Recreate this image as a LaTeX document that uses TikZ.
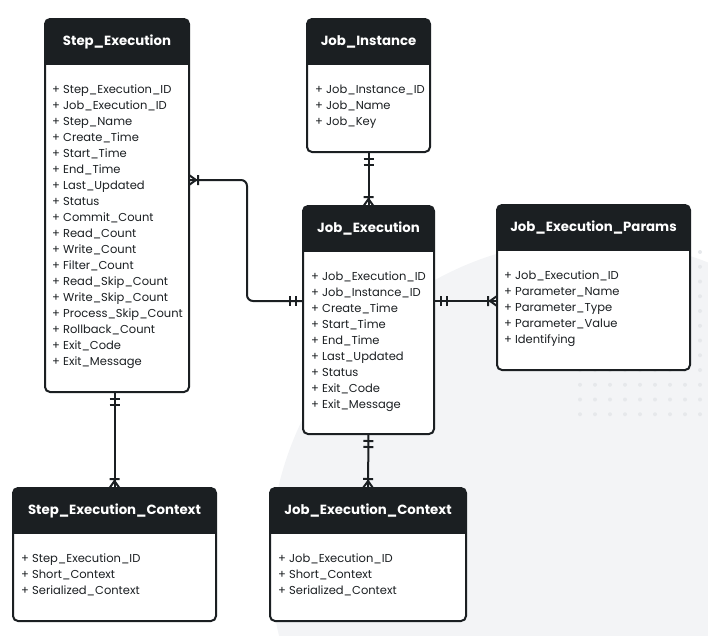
\documentclass[tikz,border=0pt]{standalone}
\usepackage{fontspec}
\setmainfont{Poppins}
\usepackage{xcolor}
\usepackage{tikz}
\usetikzlibrary{positioning}

\definecolor{ink}{HTML}{1B1F22}
\definecolor{disc}{HTML}{F3F4F6}
\definecolor{dotgray}{HTML}{E6E8EB}

\pgfdeclarearrow{
  name=TwoBar,
  setup code={
    \pgfarrowssettipend{0pt}
    \pgfarrowssetlineend{0pt}
    \pgfarrowssetbackend{-14pt}
    \pgfarrowshullpoint{0pt}{5pt}
    \pgfarrowshullpoint{-14pt}{-5pt}
  },
  drawing code={
    \pgfpathmoveto{\pgfqpoint{-7pt}{5pt}}\pgfpathlineto{\pgfqpoint{-7pt}{-5pt}}
    \pgfpathmoveto{\pgfqpoint{-13pt}{5pt}}\pgfpathlineto{\pgfqpoint{-13pt}{-5pt}}
    \pgfusepathqstroke
  }
}
\pgfdeclarearrow{
  name=Crow,
  setup code={
    \pgfarrowssettipend{0pt}
    \pgfarrowssetlineend{0pt}
    \pgfarrowssetbackend{-10pt}
    \pgfarrowshullpoint{0pt}{5pt}
    \pgfarrowshullpoint{-10pt}{-5pt}
  },
  drawing code={
    \pgfpathmoveto{\pgfqpoint{-9pt}{5pt}}\pgfpathlineto{\pgfqpoint{-9pt}{-5pt}}
    \pgfpathmoveto{\pgfqpoint{0pt}{5pt}}\pgfpathlineto{\pgfqpoint{-7pt}{0pt}}
    \pgfpathlineto{\pgfqpoint{0pt}{-5pt}}
    \pgfusepathqstroke
  }
}

\begin{document}
\begin{tikzpicture}[x=1pt,y=-1pt,
    ebox/.style={draw=ink, line width=2pt, fill=white, rounded corners=5pt, inner sep=0pt, outer sep=0pt, anchor=north west},
    htext/.style={text=white, font=\fontsize{13.3}{15}\selectfont\bfseries},
    ilist/.style={text=ink, align=left, anchor=north west, inner sep=0pt, font=\fontsize{11.5}{16}\selectfont},
    rel/.style={draw=ink, line width=2pt}]
    \useasboundingbox (0,0) rectangle (708,635);
    \begin{scope}
      \clip (0,0) rectangle (708,635);
      \fill[disc] (590,560) circle (320);
    \end{scope}
    \foreach \i in {0,...,8}
      \foreach \j in {0,...,11}
        \fill[dotgray] (580+15*\i,252+14.75*\j) circle (2);

    \node[ebox, minimum width=144pt, minimum height=373pt] (se) at (45,19) {};
    \node[ebox, minimum width=123pt, minimum height=133pt] (ji) at (307,19) {};
    \node[ebox, minimum width=131pt, minimum height=228pt] (je) at (303,206) {};
    \node[ebox, minimum width=193pt, minimum height=165pt] (jp) at (497,205) {};
    \node[ebox, minimum width=203pt, minimum height=133pt] (sc) at (13,488) {};
    \node[ebox, minimum width=196pt, minimum height=133pt] (jc) at (270,488) {};
    \foreach \n in {se,ji,je,jp,sc,jc}{
      \begin{scope}
        \clip[rounded corners=5pt] (\n.north west) rectangle (\n.south east);
        \fill[ink] (\n.north west) rectangle ([yshift=-46pt]\n.north east);
      \end{scope}
    }

    \node[htext] (se-h) at ([yshift=-23pt]se.north) {Step\_Execution};
    \node[htext] (ji-h) at ([yshift=-23pt]ji.north) {Job\_Instance};
    \node[htext] (je-h) at ([yshift=-23pt]je.north) {Job\_Execution};
    \node[htext] (jp-h) at ([yshift=-23pt]jp.north) {Job\_Execution\_Params};
    \node[htext] (sc-h) at ([yshift=-23pt]sc.north) {Step\_Execution\_Context};
    \node[htext] (jc-h) at ([yshift=-23pt]jc.north) {Job\_Execution\_Context};

    \node[ilist] (se-i) at ([xshift=7pt,yshift=-65.5pt]se.north west) {+ Step\_Execution\_ID\\+ Job\_Execution\_ID\\+ Step\_Name\\+ Create\_Time\\+ Start\_Time\\+ End\_Time\\+ Last\_Updated\\+ Status\\+ Commit\_Count\\+ Read\_Count\\+ Write\_Count\\+ Filter\_Count\\+ Read\_Skip\_Count\\+ Write\_Skip\_Count\\+ Process\_Skip\_Count\\+ Rollback\_Count\\+ Exit\_Code\\+ Exit\_Message};
    \node[ilist] (ji-i) at ([xshift=8pt,yshift=-65.5pt]ji.north west) {+ Job\_Instance\_ID\\+ Job\_Name\\+ Job\_Key};
    \node[ilist] (je-i) at ([xshift=8pt,yshift=-65.5pt]je.north west) {+ Job\_Execution\_ID\\+ Job\_Instance\_ID\\+ Create\_Time\\+ Start\_Time\\+ End\_Time\\+ Last\_Updated\\+ Status\\+ Exit\_Code\\+ Exit\_Message};
    \node[ilist] (jp-i) at ([xshift=7pt,yshift=-65.5pt]jp.north west) {+ Job\_Execution\_ID\\+ Parameter\_Name\\+ Parameter\_Type\\+ Parameter\_Value\\+ Identifying};
    \node[ilist] (sc-i) at ([xshift=8pt,yshift=-65.5pt]sc.north west) {+ Step\_Execution\_ID\\+ Short\_Context\\+ Serialized\_Context};
    \node[ilist] (jc-i) at ([xshift=8pt,yshift=-65.5pt]jc.north west) {+ Job\_Execution\_ID\\+ Short\_Context\\+ Serialized\_Context};

    \draw[rel, {TwoBar}-{Crow}] (ji.south) -- (je.north);
    \draw[rel, {TwoBar}-{Crow}] (je.east |- 0,301) -- (jp.west |- 0,301);
    \draw[rel, rounded corners=6pt, {TwoBar}-{Crow}] (je.west |- 0,301) -- (247,301) -- (247,180) -- (se.east |- 0,180);
    \draw[rel, {TwoBar}-{Crow}] (sc.north |- se.south) -- (sc.north);
    \draw[rel, {TwoBar}-{Crow}] (je.south) -- (jc.north);
\end{tikzpicture}
\end{document}
